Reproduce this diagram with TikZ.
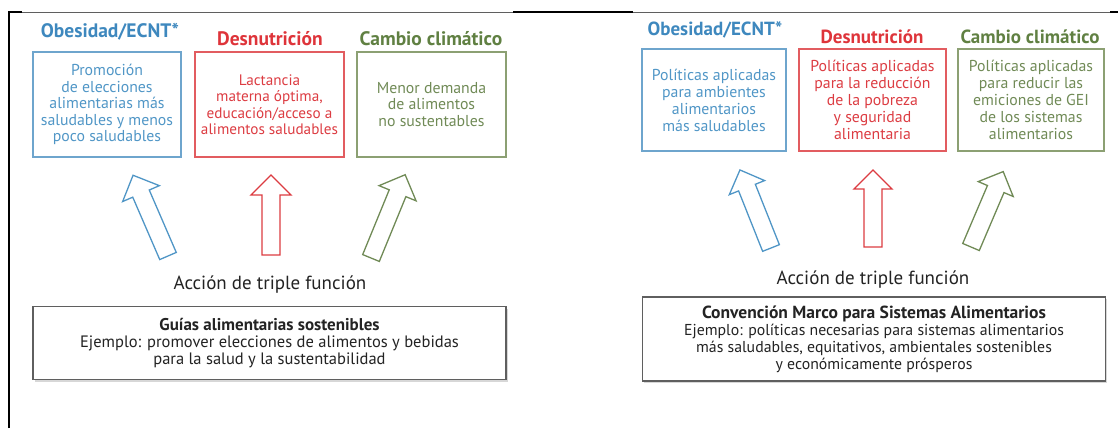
\documentclass[tikz,border=0pt]{standalone}
\usepackage{fontspec}
\setmainfont{PT Sans}
\definecolor{tblue}{RGB}{62,136,190}
\definecolor{bblue}{RGB}{110,165,205}
\definecolor{xblue}{RGB}{80,150,198}
\definecolor{tred}{RGB}{222,52,58}
\definecolor{bred}{RGB}{226,92,96}
\definecolor{xred}{RGB}{220,60,66}
\definecolor{tgreen}{RGB}{96,128,66}
\definecolor{bgreen}{RGB}{140,160,115}
\definecolor{xgreen}{RGB}{112,138,86}
\definecolor{dark}{RGB}{35,35,35}
\definecolor{framegray}{RGB}{95,95,95}
\definecolor{shadowgray}{RGB}{215,215,215}
% block arrow: colour, tail coordinate name, angle, length, head half width
\newcommand\blockarr[5]{%
  \begin{scope}[shift={(#2)}, rotate=#3, x=1pt, y=1pt]
    \draw[#1, line width=1.3pt, line join=miter, fill=white]
      (0,-9) -- ({#4-#5},-9) -- ({#4-#5},-#5) -- (#4,0) -- ({#4-#5},#5)
      -- ({#4-#5},9) -- (0,9) -- cycle;
  \end{scope}}
\tikzset{
  ttl/.style={font=\bfseries\fontsize{19.5}{21}\selectfont, inner sep=0pt},
  ttlr/.style={font=\bfseries\fontsize{19}{21}\selectfont, inner sep=0pt},
  catbox/.style={draw, line width=1.3pt, align=center, inner sep=0pt,
    font=\fontsize{15.8}{16.5}\selectfont},
  catboxr/.style={draw, line width=1.3pt, align=center, inner sep=0pt,
    font=\fontsize{15.8}{17}\selectfont},
  action/.style={font=\fontsize{19}{21}\selectfont, text=dark, inner sep=0pt},
  basebox/.style={draw=framegray, line width=1.4pt, align=center, inner sep=0pt,
    text=dark, fill=white},
}
\begin{document}
\begin{tikzpicture}[x=1pt,y=-1pt]
\useasboundingbox (0,0) rectangle (1118,428);
% frame
\draw[framegray, line width=0.8pt] (22,12) -- (513,12);
\draw[framegray, line width=0.8pt] (633,12) -- (1110,12);
\draw[black, line width=2.2pt] (513,12) -- (633,12);
\draw[black, line width=2.2pt] (1110,12) -- (1118,12);
\draw[black, line width=2.2pt] (9,428) -- (9,12) -- (22,12);

% ---------------- left panel ----------------
\node[ttl, text=tblue] (lt1) at (110,32) {Obesidad/ECNT*};
\node[ttl, text=tred] (lt2) at (270,39) {Desnutrición};
\node[ttl, text=tgreen] (lt3) at (431,39) {Cambio climático};

\node[catbox, draw=bblue, text=xblue, minimum width=148pt, minimum height=105pt] (lb1) at (107,104.5)
  {Promoción\\de elecciones\\alimentarias más\\saludables y menos\\poco saludables};
\node[catbox, draw=bred, text=xred, minimum width=149pt, minimum height=105pt,
  font=\fontsize{15.2}{16.5}\selectfont] (lb2) at (269.5,104.5)
  {Lactancia\\materna óptima,\\educación/acceso a\\alimentos saludables};
\node[catbox, draw=bgreen, text=xgreen, minimum width=149pt, minimum height=105pt] (lb3) at (431.5,104.5)
  {Menor demanda\\de alimentos\\no sustentables};

\coordinate (la1) at (168,256);
\coordinate (la2) at (271,255);
\coordinate (la3) at (371,258);
\blockarr{xblue}{la1}{113.4}{88}{20}
\blockarr{xred}{la2}{90}{80}{20}
\blockarr{xgreen}{la3}{67.7}{90}{20}

\node[action] (lac) at (270,285) {Acción de triple función};

\fill[shadowgray] (35,309) rectangle (508,382);
\node[basebox, minimum width=473pt, minimum height=73pt, font=\fontsize{16.5}{17}\selectfont] (lbb) at (269.5,343)
  {{\bfseries\fontsize{17}{17}\selectfont Guías alimentarias sostenibles}\\Ejemplo: promover elecciones de alimentos y bebidas\\para la salud y la sustentabilidad};

% ---------------- right panel ----------------
\node[ttlr, text=tblue] (rt1) at (715,30) {Obesidad/ECNT*};
\node[ttlr, text=tred] (rt2) at (872,37) {Desnutrición};
\node[ttlr, text=tgreen] (rt3) at (1030,37) {Cambio climático};

\node[catboxr, draw=bblue, text=xblue, minimum width=144pt, minimum height=102pt] (rb1) at (714,100)
  {Políticas aplicadas\\para ambientes\\alimentarios\\más saludables};
\node[catboxr, draw=bred, text=xred, minimum width=147pt, minimum height=102pt] (rb2) at (872.5,100)
  {Políticas aplicadas\\para la reducción\\de la pobreza\\y seguridad\\alimentaria};
\node[catboxr, draw=bgreen, text=xgreen, minimum width=146pt, minimum height=102pt] (rb3) at (1031,100)
  {Políticas aplicadas\\para reducir las\\emiciones de GEI\\de los sistemas\\alimentarios};

\coordinate (ra1) at (771,248);
\coordinate (ra2) at (873,247);
\coordinate (ra3) at (971,247);
\blockarr{xblue}{ra1}{111.7}{84}{19}
\blockarr{xred}{ra2}{90}{77}{19}
\blockarr{xgreen}{ra3}{66.9}{82}{19}

\node[action] (rac) at (873,280) {Acción de triple función};

\fill[shadowgray] (644,299) rectangle (1107,383);
\node[basebox, minimum width=463pt, minimum height=84pt, font=\fontsize{15.8}{17}\selectfont] (rbb) at (874,339)
  {{\bfseries\fontsize{17.5}{17}\selectfont Convención Marco para Sistemas Alimentarios}\\Ejemplo: políticas necesarias para sistemas alimentarios\\más saludables, equitativos, ambientales sostenibles\\y económicamente prósperos};
\end{tikzpicture}
\end{document}
